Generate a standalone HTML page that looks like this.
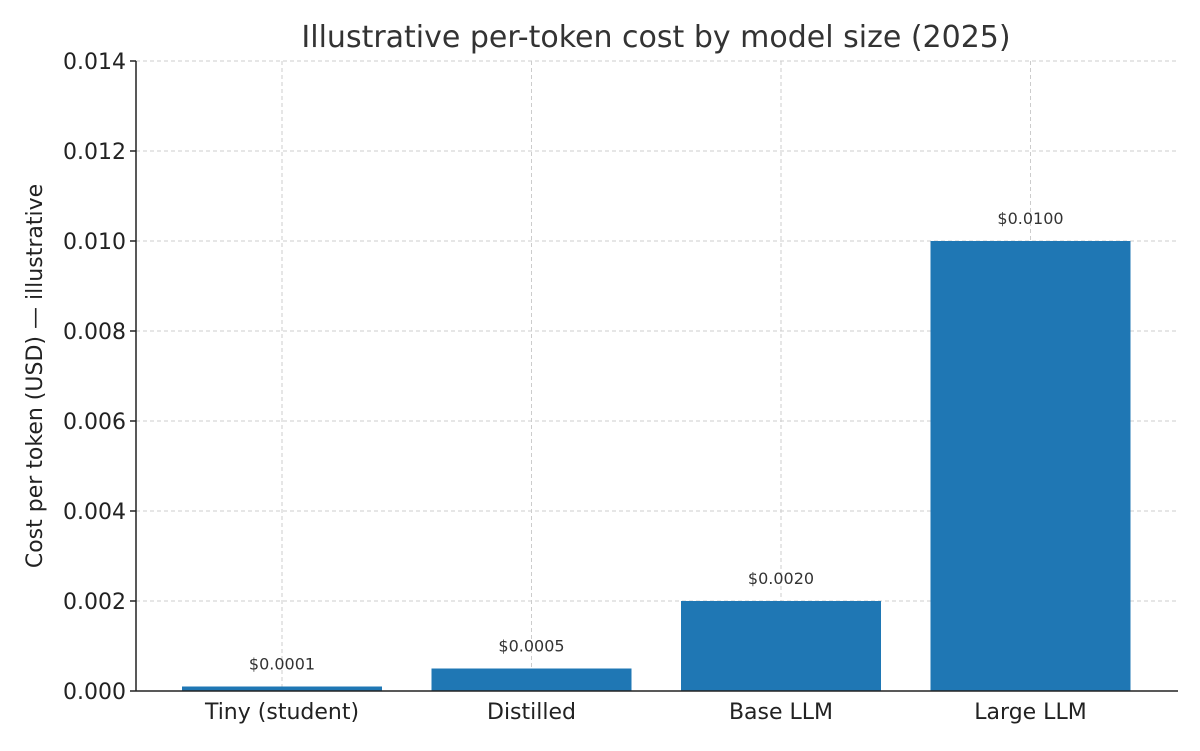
<!DOCTYPE html>
<html><head><meta charset="utf-8"><style>
body{margin:0;background:#fff;}
svg text{font-family:"DejaVu Sans","Liberation Sans",sans-serif;}
</style></head><body>
<svg width="1200" height="746" xmlns="http://www.w3.org/2000/svg">
<text x="656" y="47" font-size="30" text-anchor="middle" fill="#333">Illustrative per-token cost by model size (2025)</text>
<g id="grid"></g>
<g id="bars"></g>
<g id="axes"></g>
<text transform="translate(42,376) rotate(-90)" font-size="22" text-anchor="middle" fill="#222">Cost per token (USD) — illustrative</text>
</svg>
<script>
const categories=["Tiny (student)","Distilled","Base LLM","Large LLM"];
const values=[0.0001,0.0005,0.0020,0.0100];
const valueLabels=["$0.0001","$0.0005","$0.0020","$0.0100"];
const yTicks=[0,0.002,0.004,0.006,0.008,0.010,0.012,0.014];
const yTickLabels=["0.000","0.002","0.004","0.006","0.008","0.010","0.012","0.014"];
const NS="http://www.w3.org/2000/svg";
const L=136,R=1178,B=691,T=61,yMax=0.014;
const y=v=>B-(v/yMax)*(B-T);
const x=i=>282+i*249.5;
const bw=200;
function mk(tag,attrs,parent){const e=document.createElementNS(NS,tag);for(const k in attrs)e.setAttribute(k,attrs[k]);parent.appendChild(e);return e;}
const grid=document.getElementById('grid'),bars=document.getElementById('bars'),axes=document.getElementById('axes');
yTicks.forEach((t,i)=>{
  const g=mk('line',{x1:L,x2:R,y1:y(t),y2:y(t),stroke:'#ccc','stroke-dasharray':'4,3','stroke-width':1},grid);
  
  
  const tk=mk('line',{x1:L-6,x2:L,y1:y(t),y2:y(t),stroke:'#222','stroke-width':1.5},axes);
  
  
  const tx=mk('text',{x:L-10,y:y(t)+8,'font-size':22,'text-anchor':'end',fill:'#222'},axes);
  tx.textContent=yTickLabels[i];
  
  
});
categories.forEach((c,i)=>{
  const g=mk('line',{x1:x(i),x2:x(i),y1:T,y2:B,stroke:'#ccc','stroke-dasharray':'4,3','stroke-width':1},grid);
  
  
  const r=mk('rect',{x:x(i)-bw/2,y:y(values[i]),width:bw,height:B-y(values[i]),fill:'#1f77b4'},bars);
  
  
  const vl=mk('text',{x:x(i),y:y(values[i])-17,'font-size':16,'text-anchor':'middle',fill:'#333'},bars);
  vl.textContent=valueLabels[i];
  
  
  const tx=mk('text',{x:x(i),y:B+28,'font-size':22,'text-anchor':'middle',fill:'#222'},axes);
  tx.textContent=c;
  
  
});
const ls=mk('line',{x1:L,x2:L,y1:T,y2:B,stroke:'#222','stroke-width':1.5},axes);


const bs=mk('line',{x1:L,x2:R,y1:B,y2:B,stroke:'#222','stroke-width':1.5},axes);


</script>
</body></html>
